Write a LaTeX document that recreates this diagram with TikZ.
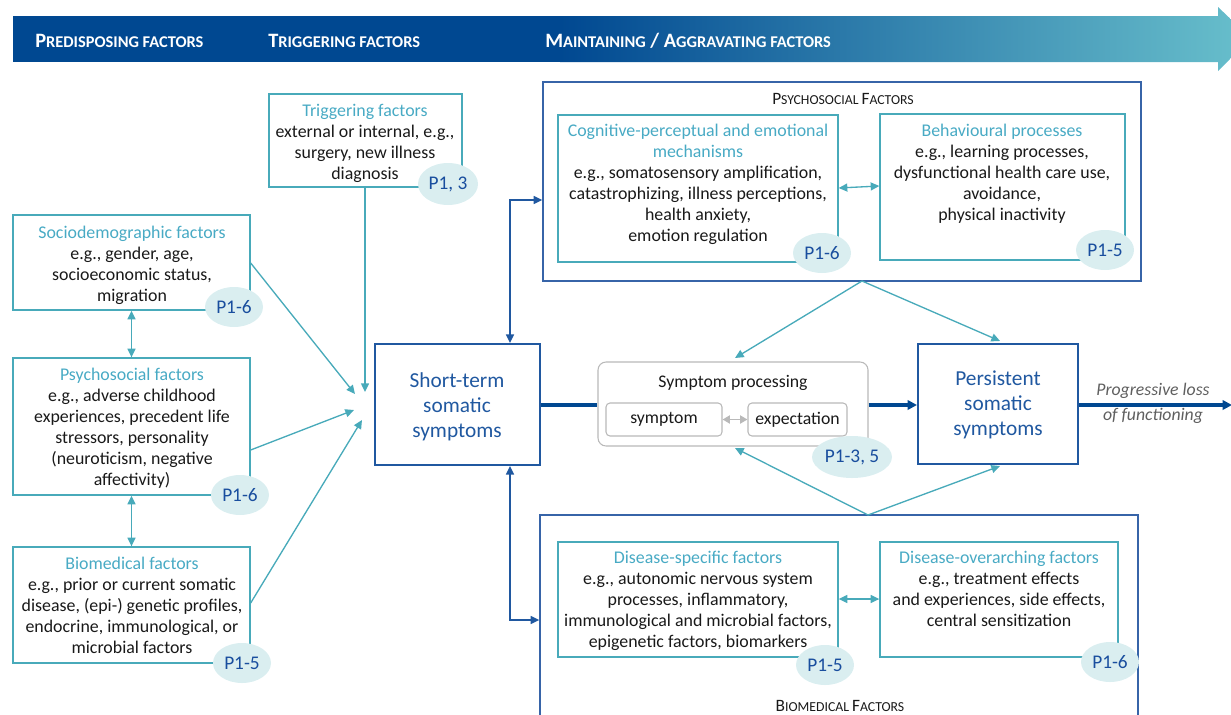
\documentclass[tikz,border=0pt]{standalone}
\usepackage{fontspec}
\setmainfont{Carlito}
\usetikzlibrary{arrows.meta,shapes.geometric,fit,positioning}
\definecolor{dkb}{RGB}{0,72,145}
\definecolor{tealb}{RGB}{105,192,204}
\definecolor{sblue}{RGB}{32,88,160}
\definecolor{bigb}{RGB}{55,100,168}
\definecolor{tline}{RGB}{72,170,186}
\definecolor{ttext}{RGB}{72,170,196}
\definecolor{efill}{RGB}{218,238,240}
\definecolor{etext}{RGB}{25,78,158}
\definecolor{txtc}{RGB}{25,25,25}
\definecolor{gline}{RGB}{185,185,185}
\definecolor{gtext}{RGB}{95,95,95}
\newcommand{\bansc}[2]{#1{\fontsize{12.3}{14}\selectfont #2}}
\newcommand{\boxsc}[2]{{\fontsize{13}{15}\selectfont #1}{\fontsize{10.3}{12}\selectfont #2}}
\tikzset{
  tbox/.style={draw=tline, line width=1pt, inner sep=0pt},
  bigbox/.style={draw=bigb, line width=1pt, inner sep=0pt},
  mainbox/.style={draw=sblue, line width=1.5pt, inner sep=0pt},
  gbox/.style={draw=gline, line width=0.8pt, rounded corners=6pt, inner sep=0pt},
  btxt/.style={font=\fontsize{13.4}{15.75}\selectfont, align=center, inner sep=0pt, anchor=north, text=txtc},
  mtxt/.style={font=\fontsize{16}{18.75}\selectfont, align=center, inner sep=0pt, anchor=north, text=sblue},
  pell/.style={ellipse, fill=efill, inner sep=0pt, text=etext, font=\fontsize{14.5}{16}\selectfont},
  banner/.style={text=white, font=\bfseries\fontsize{15.3}{17}\selectfont, anchor=base west, inner sep=0pt},
  tarr/.style={draw=tline, line width=1pt, -{Triangle[length=6.5pt,width=6pt]}},
  tdarr/.style={draw=tline, line width=1pt, {Triangle[length=6.5pt,width=6pt]}-{Triangle[length=6.5pt,width=6pt]}},
  barr/.style={draw=sblue, line width=1.2pt, {Triangle[length=6.5pt,width=6pt]}-{Triangle[length=6.5pt,width=6pt]}},
  thick blue/.style={draw=dkb, line width=2.4pt},
  smalltxt/.style={inner sep=0pt, text=txtc, font=\fontsize{13.3}{15}\selectfont},
}
\begin{document}
\begin{tikzpicture}[x=0.75pt,y=-0.75pt]
\useasboundingbox (0,0) rectangle (1231,714);
% banner
\fill[dkb] (13,16) rectangle (562,62);
\shade[left color=dkb, right color=tealb] (560,16) -- (1218,16) -- (1218,7) -- (1251,38.5) -- (1218,71) -- (1218,62) -- (560,62) -- cycle;
\node[banner] (b1) at (35,47) {\bansc{P}{REDISPOSING FACTORS}};
\node[banner] (b2) at (268,47) {\bansc{T}{RIGGERING FACTORS}};
\node[banner] (b3) at (545,47) {\bansc{M}{AINTAINING} / \bansc{A}{GGRAVATING FACTORS}};

% left boxes
\node[tbox, fit={(269,94)(462,187)}] (trig) {};
\node[btxt] (trigt) at (365,104) {{\color{ttext}Triggering factors}\\external or internal, e.g.,\\surgery, new illness\\diagnosis};
\node[tbox, fit={(13,215)(250,310)}] (soc) {};
\node[btxt] (soct) at (132,226) {{\color{ttext}Sociodemographic factors}\\e.g., gender, age,\\socioeconomic status,\\migration};
\node[tbox, fit={(13,358)(250,495)}] (psy) {};
\node[btxt] (psyt) at (132,368) {{\color{ttext}Psychosocial factors}\\e.g., adverse childhood\\experiences, precedent life\\stressors, personality\\(neuroticism, negative\\affectivity)};
\node[tbox, fit={(13,547)(250,663)}] (bio) {};
\node[btxt] (biot) at (132,557) {{\color{ttext}Biomedical factors}\\e.g., prior or current somatic\\disease, (epi-) genetic profiles,\\endocrine, immunological, or\\microbial factors};

% main boxes
\node[mainbox, fit={(375,344)(540,465)}] (st) {};
\node[mtxt] (stt) at (457,372) {Short-term\\somatic\\symptoms};
\node[mainbox, fit={(918,344)(1078,464)}] (pers) {};
\node[mtxt] (perst) at (998,371) {Persistent\\somatic\\symptoms};

% psychosocial big box
\node[bigbox, fit={(543,82)(1141,281)}] (PF) {};
\node[inner sep=0pt, text=txtc] (PFt) at (843,99) {\boxsc{P}{SYCHOSOCIAL} \boxsc{F}{ACTORS}};
\node[tbox, fit={(558,115)(838,262)}] (cog) {};
\node[btxt] (cogt) at (698,124) {{\color{ttext}Cognitive-perceptual and emotional}\\{\color{ttext}mechanisms}\\e.g., somatosensory amplification,\\catastrophizing, illness perceptions,\\health anxiety,\\emotion regulation};
\node[tbox, fit={(880,114)(1125,260)}] (beh) {};
\node[btxt] (beht) at (1002,124) {{\color{ttext}Behavioural processes}\\e.g., learning processes,\\dysfunctional health care use,\\avoidance,\\physical inactivity};

% biomedical big box
\node[bigbox, fit={(540,515)(1138,730)}] (BF) {};
\node[inner sep=0pt, text=txtc] (BFt) at (840,706) {\boxsc{B}{IOMEDICAL} \boxsc{F}{ACTORS}};
\node[tbox, fit={(558,542)(838,657)}] (ds) {};
\node[btxt] (dst) at (698,551) {{\color{ttext}Disease-specific factors}\\e.g., autonomic nervous system\\processes, inflammatory,\\immunological and microbial factors,\\epigenetic factors, biomarkers};
\node[tbox, fit={(880,542)(1118,657)}] (do) {};
\node[btxt] (dot) at (999,551) {{\color{ttext}Disease-overarching factors}\\e.g., treatment effects\\and experiences, side effects,\\central sensitization};

% symptom processing
\node[gbox, fit={(598,362)(868,446)}] (sp) {};
\node[smalltxt] (spt) at (733,383) {Symptom processing};
\node[gbox, rounded corners=3pt, fit={(606,403)(722,436)}] (sym) {};
\node[smalltxt] at (sym.center) {symptom};
\node[gbox, rounded corners=3pt, fit={(748,403)(847,436)}] (exp) {};
\node[smalltxt] at (exp.center) {expectation};
\draw[draw=gline, line width=1.3pt, {Triangle[length=5.5pt,width=6pt]}-{Triangle[length=5.5pt,width=6pt]}] (sym.east) -- (exp.west);

% italic
\node[inner sep=0pt, text=gtext, font=\itshape\fontsize{13.3}{15}\selectfont] (pl1) at (1153,391) {Progressive loss};
\node[inner sep=0pt, text=gtext, font=\itshape\fontsize{13.3}{15}\selectfont] (pl2) at (1153,416) {of functioning};

% ellipses
\node[pell, minimum width=45pt, minimum height=31.5pt] (etrig) at (448,184) {P1, 3};
\node[pell, minimum width=43.5pt, minimum height=30pt] (esoc) at (234,307) {P1-6};
\node[pell, minimum width=43.5pt, minimum height=30pt] (epsy) at (240,495) {P1-6};
\node[pell, minimum width=43.5pt, minimum height=30pt] (ebio) at (242,663) {P1-5};
\node[pell, minimum width=43.5pt, minimum height=30pt] (ecog) at (822,253) {P1-6};
\node[pell, minimum width=43.5pt, minimum height=30pt] (ebeh) at (1105,250) {P1-5};
\node[pell, minimum width=60pt, minimum height=31.5pt] (esp) at (852,457) {P1-3, 5};
\node[pell, minimum width=43.5pt, minimum height=30pt] (eds) at (825,665) {P1-5};
\node[pell, minimum width=43.5pt, minimum height=30pt] (edo) at (1110,662) {P1-6};

% coordinates
\coordinate (stin1) at (365,392);
\coordinate (stin2) at (355,394);
\coordinate (stin3) at (354,410);
\coordinate (stin4) at (362,420);
\coordinate (pfapex) at (862,281);
\coordinate (bfapex) at (868,515);
\coordinate (endarr) at (1232,405);

% connectors
\draw[tarr] (trig.south -| stin1) -- (stin1);
\draw[tarr] (soc.east |- 0,263) -- (stin2);
\draw[tarr] (psy.east |- 0,450) -- (stin3);
\draw[tarr] (bio.east |- 0,603) -- (stin4);
\draw[tdarr] (soc.south) -- (psy.north);
\draw[tdarr] (psy.south) -- (bio.north);
\draw[barr] (st.north -| 510,0) -- (510,200) -- (PF.west |- 0,200);
\draw[barr] (st.south -| 510,0) -- (510,620) -- (BF.west |- 0,620);
\draw[thick blue] (st.east |- 0,405) -- (sp.west |- 0,405);
\draw[thick blue, -{Triangle[length=7pt,width=7pt]}] (sp.east |- 0,405) -- (pers.west |- 0,405);
\draw[thick blue, -{Triangle[length=7pt,width=7pt]}] (pers.east |- 0,405) -- (endarr);
\draw[tarr] (pfapex) -- (735,358);
\draw[tarr] (pfapex) -- (1000,341);
\draw[tarr] (bfapex) -- (735,448);
\draw[tarr] (bfapex) -- (1000,466);
\draw[tdarr] (cog.east |- 0,188) -- (beh.west |- 0,186);
\draw[tdarr] (ds.east |- 0,599) -- (do.west |- 0,599);
\end{tikzpicture}
\end{document}
